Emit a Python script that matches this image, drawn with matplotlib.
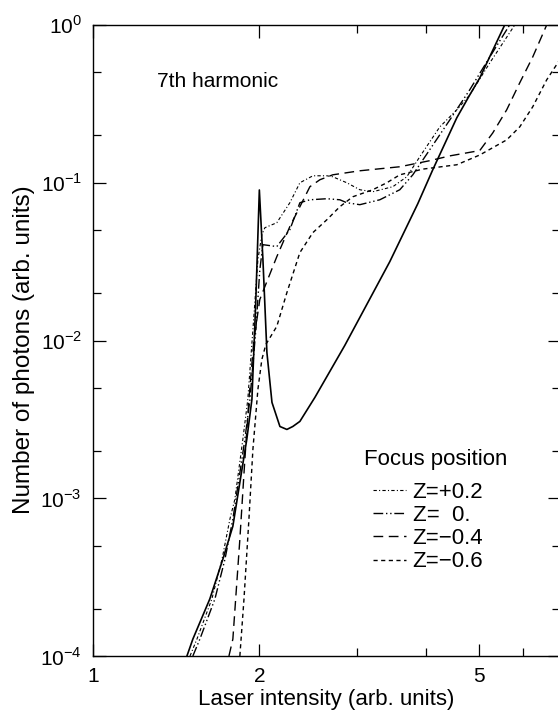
import numpy as np
import matplotlib
matplotlib.use("Agg")
import matplotlib.pyplot as plt
from matplotlib.ticker import LogLocator, FixedLocator, NullFormatter, FixedFormatter

plt.rcParams['font.family'] = ['Liberation Sans', 'DejaVu Sans']
plt.rcParams['mathtext.fontset'] = 'custom'
plt.rcParams['mathtext.rm'] = 'Liberation Sans'

# Harmonic yield vs laser intensity for several focus positions
solid_x = [1.479, 1.516, 1.627, 1.718, 1.791, 1.844, 1.898, 1.939, 1.971, 2.0, 2.030, 2.064,
           2.108, 2.179, 2.243, 2.299, 2.368, 2.521, 2.683, 2.855, 3.040, 3.444, 3.870,
           4.12, 4.553, 4.805, 5.011, 5.559]
solid_y = [1.0e-4, 1.28e-4, 2.30e-4, 4.11e-4, 6.65e-4, 1.26e-3, 2.36e-3, 4.23e-3, 1.82e-2, 9.0e-2,
           3.26e-2, 8.4e-3, 4.05e-3, 2.85e-3, 2.73e-3, 2.85e-3, 3.07e-3, 4.36e-3, 6.37e-3, 9.3e-3,
           1.40e-2, 3.16e-2, 7.36e-2, 0.121, 0.258, 0.36, 0.462, 1.0]

zp02_x = [1.498, 1.542, 1.641, 1.712, 1.769, 1.806, 1.867, 1.906, 1.947, 1.988, 2.021, 2.047,
          2.151, 2.271, 2.368, 2.500, 2.650, 2.716, 2.879, 3.040, 3.208, 3.488, 3.697, 3.902,
          4.242, 4.553, 4.805, 5.224, 5.797]
zp02_y = [1.0e-4, 1.28e-4, 2.30e-4, 4.11e-4, 7.37e-4, 9.86e-4, 2.36e-3, 4.23e-3, 1.17e-2, 3.26e-2,
          0.0469, 0.0519, 0.0558, 0.0747, 0.100, 0.1107, 0.1107, 0.1091, 0.100, 0.0903, 0.0877,
          0.0944, 0.1091, 0.146, 0.226, 0.290, 0.36, 0.575, 1.0]

z0_x = [1.516, 1.561, 1.662, 1.733, 1.791, 1.883, 1.923, 1.971, 2.004, 2.030, 2.151, 2.271,
        2.368, 2.469, 2.650, 2.797, 2.879, 3.040, 3.304, 3.591, 3.791, 4.068, 4.422, 4.805,
        5.224, 5.675]
z0_y = [1.0e-4, 1.28e-4, 2.30e-4, 4.11e-4, 7.37e-4, 2.36e-3, 4.23e-3, 1.17e-2, 2.81e-2, 0.0405,
        0.0394, 0.0504, 0.0747, 0.0780, 0.0792, 0.0780, 0.0747, 0.0726, 0.0780, 0.0903, 0.1123,
        0.162, 0.250, 0.388, 0.627, 1.0]

zm04_x = [1.762, 1.791, 1.844, 1.883, 1.915, 1.955, 2.004, 2.047, 2.151, 2.271, 2.368, 2.469,
          2.574, 2.716, 3.040, 3.591, 4.068, 4.422, 5.011, 5.290, 5.606, 5.919, 6.248, 6.622]
zm04_y = [1.0e-4, 1.28e-4, 5.5e-4, 1.77e-3, 4.23e-3, 1.01e-2, 1.82e-2, 0.0220, 0.0340, 0.0527,
          0.0705, 0.0944, 0.1045, 0.1123, 0.1191, 0.1263, 0.138, 0.148, 0.160, 0.207, 0.290,
          0.430, 0.627, 1.0]

zm06_x = [1.844, 1.876, 1.915, 1.947, 1.988, 2.021, 2.055, 2.151, 2.243, 2.368, 2.500, 2.650,
          2.797, 2.952, 3.208, 3.402, 3.591, 3.951, 4.553, 5.011, 5.606, 5.919, 6.248, 6.622, 6.99]
zm06_y = [1.0e-4, 2.30e-4, 7.37e-4, 2.04e-3, 4.90e-3, 7.58e-3, 9.44e-3, 1.23e-2, 2.01e-2, 3.61e-2,
          4.83e-2, 5.83e-2, 7.05e-2, 8.15e-2, 9.03e-2, 0.100, 0.1123, 0.122, 0.130, 0.150, 0.187,
          0.226, 0.303, 0.449, 0.600]

legend_title = 'Focus position'
legend_labels = ['Z=+0.2', 'Z=  0.', 'Z=\u22120.4', 'Z=\u22120.6']
x_tick_vals = [1, 2, 5]
x_tick_labels = ['1', '2', '5']
y_tick_vals = [1e-4, 1e-3, 1e-2, 1e-1, 1e0]
y_tick_labels = [r'$10^{-4}$', r'$10^{-3}$', r'$10^{-2}$', r'$10^{-1}$', r'$10^{0}$']

fig = plt.figure(figsize=(5.58, 7.17), dpi=100)
ax = fig.add_axes([93 / 558, 61 / 717, 467 / 558, 631 / 717])

ax.plot(solid_x, solid_y, color='black', lw=1.2, ls='-')
l1, = ax.plot(zp02_x, zp02_y, color='black', lw=0.8, ls=(0, (3, 2, 1, 2)))
l2, = ax.plot(z0_x, z0_y, color='black', lw=1.0, ls=(0, (7, 2, 1, 2, 1, 2)))
l3, = ax.plot(zm04_x, zm04_y, color='black', lw=1.0, ls=(0, (7, 4)))
l4, = ax.plot(zm06_x, zm06_y, color='black', lw=1.0, ls=(0, (3, 2.5)))

ax.set_xscale('log')
ax.set_yscale('log')
ax.set_xlim(1, 7)
ax.set_ylim(1e-4, 1)

ax.xaxis.set_major_locator(FixedLocator(x_tick_vals))
ax.xaxis.set_major_formatter(FixedFormatter(x_tick_labels))
ax.xaxis.set_minor_locator(FixedLocator([3, 4, 6]))
ax.xaxis.set_minor_formatter(NullFormatter())
ax.yaxis.set_major_locator(FixedLocator(y_tick_vals))
ax.yaxis.set_major_formatter(FixedFormatter(y_tick_labels))
ax.yaxis.set_minor_locator(LogLocator(base=10, subs=(2.0, 5.0)))
ax.yaxis.set_minor_formatter(NullFormatter())

ax.tick_params(which='both', direction='in', top=True, right=True, width=0.9)
ax.tick_params(which='major', length=9, labelsize=15, pad=8)
ax.tick_params(which='minor', length=6)
for s in ax.spines.values():
    s.set_linewidth(1.0)

ax.set_xlabel('Laser intensity (arb. units)', fontsize=16)
ax.xaxis.set_label_coords(0.5, -0.052)
ax.set_ylabel('Number of photons (arb. units)', fontsize=17.5)
ax.yaxis.set_label_coords(-0.124, 0.485)

ax.text(0.137, 0.910, '7th harmonic', transform=ax.transAxes, fontsize=15, va='center')

ax.text(0.580, 0.312, legend_title, transform=ax.transAxes, fontsize=16, va='center')
leg = ax.legend([l1, l2, l3, l4], legend_labels, loc='upper left',
                bbox_to_anchor=(0.556, 0.308), frameon=False, fontsize=16,
                handlelength=1.5, handletextpad=0.3, labelspacing=0.1)

fig.savefig('out.png', dpi=100)
